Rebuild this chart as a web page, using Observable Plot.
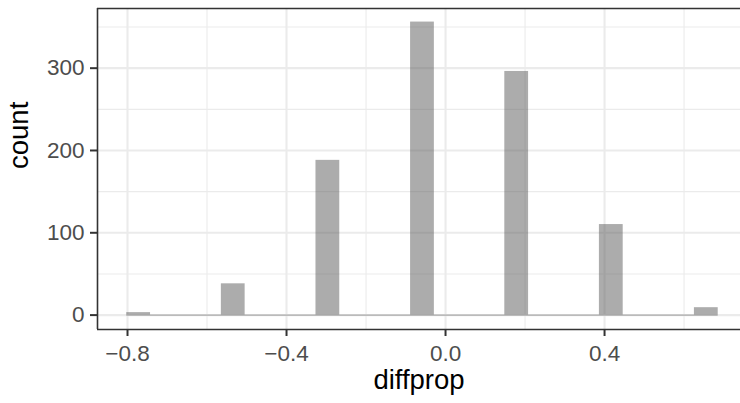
<!DOCTYPE html>
<html><head><meta charset="utf-8">
<script src="https://cdn.jsdelivr.net/npm/d3@7"></script>
<script src="https://cdn.jsdelivr.net/npm/@observablehq/plot@0.6"></script>
<style>html,body{margin:0;padding:0;background:#fff;overflow:hidden}</style>
</head><body><div id="chart"></div>
<script>
// Histogram data (bin centres and counts)
const binCenters = [-0.772, -0.534, -0.296, -0.058, 0.179, 0.417, 0.656];
const counts = [3, 38, 188, 356, 296, 110, 9];
const binWidth = 0.0598;
const xTicks = [-0.8, -0.4, 0.0, 0.4];
const xMinor = [-0.6, -0.2, 0.2, 0.6];
const yTicks = [0, 100, 200, 300];
const yMinor = [50, 150, 250, 350];
const xLabel = "diffprop";
const yLabel = "count";

const data = binCenters.map((c, i) => ({x1: c - binWidth / 2, x2: c + binWidth / 2, count: counts[i]}));
const xDomain = [-0.8755, 0.742];
const yDomain = [-17.5, 372.5];
const fmt = d => (d < 0 ? "\u2212" : "") + Math.abs(d).toFixed(1);
const font = "'Liberation Sans', Arial, Helvetica, sans-serif";

const chart = Plot.plot({
  width: 740,
  height: 403,
  marginLeft: 97,
  marginRight: 0,
  marginTop: 8,
  marginBottom: 74,
  style: {fontFamily: font, background: "#fff", overflow: "hidden"},
  x: {domain: xDomain},
  y: {domain: yDomain},
  marks: [
    Plot.ruleX(xMinor, {stroke: "#ebebeb", strokeWidth: 1.1}),
    Plot.ruleY(yMinor, {stroke: "#ebebeb", strokeWidth: 1.1}),
    Plot.ruleX(xTicks, {stroke: "#ebebeb", strokeWidth: 2.1}),
    Plot.ruleY(yTicks, {stroke: "#ebebeb", strokeWidth: 2.1}),
    Plot.ruleY([0], {x1: data[0].x1, x2: data[data.length - 1].x2, stroke: "#9a9a9a", strokeWidth: 1}),
    Plot.rectY(data, {x1: "x1", x2: "x2", y: "count", fill: "#595959", fillOpacity: 0.5}),
    Plot.axisX(xTicks, {tickSize: 7, tickPadding: 8.5, tickFormat: fmt, fontSize: 22.5, fill: "#4d4d4d", stroke: "#333333", strokeWidth: 2, label: null}),
    Plot.axisY(yTicks, {tickSize: 7, tickPadding: 6, fontSize: 22.5, fill: "#4d4d4d", stroke: "#333333", strokeWidth: 2, label: null}),
    Plot.ruleX([xDomain[0]], {stroke: "#333333", strokeWidth: 1.6}),
    Plot.ruleY([yDomain[0], yDomain[1]], {stroke: "#333333", strokeWidth: 1.6}),
    Plot.text([xLabel], {frameAnchor: "bottom", dy: 59, fontSize: 27.5, fill: "#000"}),
    Plot.text([yLabel], {frameAnchor: "left", dx: -78, rotate: -90, fontSize: 27.5, fill: "#000"})
  ]
});
document.getElementById("chart").appendChild(chart);
</script>
</body></html>
